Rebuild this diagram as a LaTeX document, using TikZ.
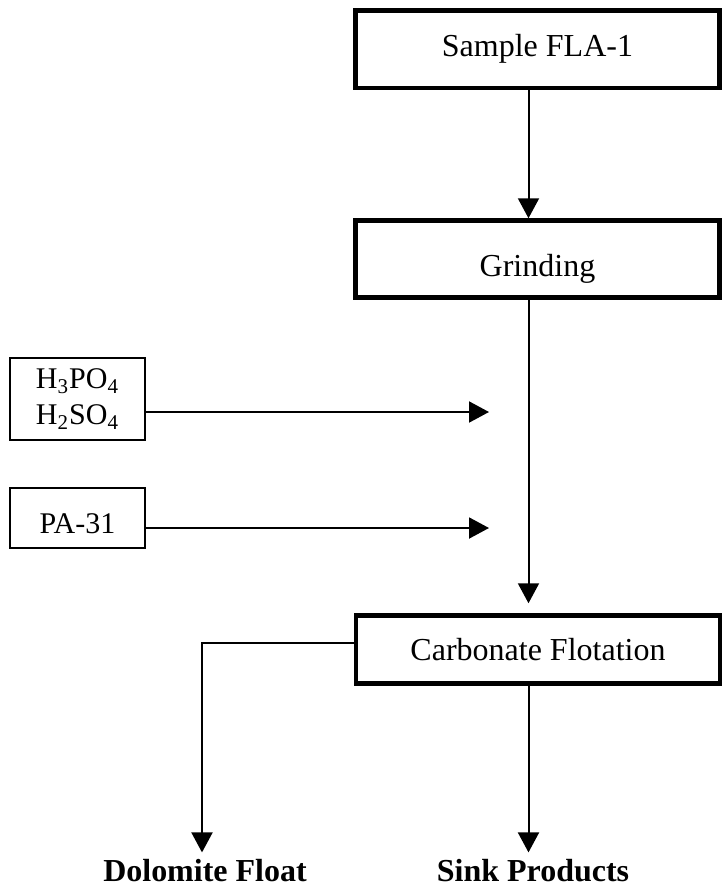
\documentclass[tikz,border=0pt]{standalone}
\usepackage{fontspec}
\setmainfont{Liberation Serif}
\usetikzlibrary{arrows.meta}
\begin{document}
\begin{tikzpicture}[x=0.5pt,y=-0.5pt,
  stage/.style={draw, line width=2.25pt, minimum width=182pt, inner sep=0pt,
    font=\fontsize{16}{19}\selectfont},
  feed/.style={draw, line width=1pt, minimum width=67.5pt, inner sep=0pt,
    align=center, font=\fontsize{15}{18}\selectfont},
  product/.style={inner sep=0pt, anchor=base, font=\fontsize{16}{19}\selectfont\bfseries},
  flow/.style={line width=1pt, -{Triangle[length=10pt,width=10.5pt]}}]
\useasboundingbox (0,0) rectangle (725,891);

% process stages
\node[stage, minimum height=38.75pt, text height=10.75pt, text depth=4pt]
  (sample) at (537.5,49.25) {Sample FLA-1};
\node[stage, minimum height=38.5pt, text height=17pt, text depth=0pt]
  (grind) at (537.5,259) {Grinding};
\node[stage, minimum height=34pt, text height=13.5pt, text depth=3pt]
  (carb) at (538,649.5) {Carbonate Flotation};

% reagent feeds
\node[feed, minimum height=41pt] (acid) at (77.5,399)
  {H\textsubscript{3}PO\textsubscript{4}\\H\textsubscript{2}SO\textsubscript{4}};
\node[feed, minimum height=30pt, text height=15pt, text depth=0pt] (pa) at (77.5,518) {PA-31};

% products
\node[product] (dol) at (205,881) {Dolomite Float};
\node[product] (sink) at (533,881) {Sink Products};

% flow lines
\coordinate (trunk) at (528.5,0);
\coordinate (acidIn) at (489,412);
\coordinate (paIn) at (489,528);
\coordinate (split) at (202,643);

\draw[flow] (sample.south -| trunk) -- (grind.north -| trunk);
\draw[flow, shorten >=5pt] (grind.south -| trunk) -- (carb.north -| trunk);
\draw[flow] (acidIn -| acid.east) -- (acidIn);
\draw[flow] (paIn -| pa.east) -- (paIn);
\draw[flow, shorten >=3pt] (split -| carb.west) -- (split) -- (split |- dol.north);
\draw[flow, shorten >=3pt] (carb.south -| trunk) -- (trunk |- sink.north);
\end{tikzpicture}
\end{document}
